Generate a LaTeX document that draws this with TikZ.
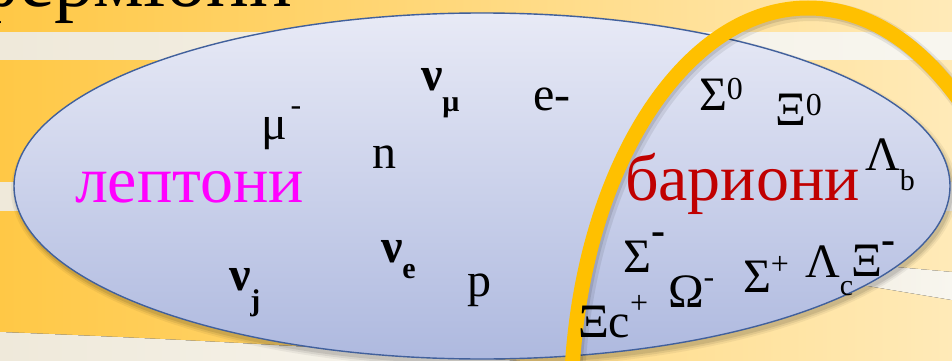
\documentclass[tikz,border=0pt]{standalone}
\usepackage{fontspec}
\setmainfont{Liberation Serif}
\definecolor{bgL}{HTML}{FFC846}
\definecolor{bgR}{HTML}{FFEAB8}
\definecolor{stripeL}{HTML}{EFE9DA}
\definecolor{stripeR}{HTML}{F8F6EF}
\definecolor{ellTop}{HTML}{E8EAF6}
\definecolor{ellBot}{HTML}{AEB9DF}
\definecolor{ellLine}{HTML}{41609C}
\definecolor{ringCol}{HTML}{FFC000}
\definecolor{lepCol}{HTML}{FF00FF}
\definecolor{barCol}{HTML}{C00000}
\newcommand\pfont{\fontsize{48}{48}\selectfont}
\newcommand\supr[2]{\raisebox{#1pt}{\fontsize{32}{32}\selectfont #2}}
\newcommand\subr[2]{\raisebox{-#1pt}{\fontsize{30}{30}\selectfont #2}}
\newcommand\bminus[1]{\raisebox{#1pt}{\fontsize{42}{42}\selectfont\bfseries -}}
\tikzset{
  lbl/.style={anchor=base west, inner sep=0pt, outer sep=0pt, font=\pfont, text=black},
  grouplbl/.style={anchor=base west, inner sep=0pt, outer sep=0pt, font=\fontsize{66}{66}\selectfont},
  stripe/.style={left color=stripeL, right color=stripeR, draw=none},
}
\begin{document}
\begin{tikzpicture}[x=1pt,y=-1pt]
\useasboundingbox (0,0) rectangle (952,361);
\clip (0,0) rectangle (952,361);
% background
\fill[left color=bgL, right color=bgR] (0,0) rectangle (952,361);
\fill[stripe] (0,33) rectangle (952,60);
\fill[stripe] (0,182) rectangle (952,210);
\fill[stripe] (760,255) -- (952,272) -- (952,300) -- (760,268) -- cycle;
\fill[stripe] (0,332) .. controls (150,338) and (300,345) .. (520,361) -- (0,361) -- cycle;
% title (cut off at top)
\node[anchor=base east, inner sep=0pt, font=\fontsize{80}{80}\selectfont] (title) at (292,7) {ферміони};
% ellipse shadow
\foreach \r/\o in {5/0.05,3/0.07,1/0.09}{
  \fill[black, opacity=\o] (484,190) ellipse [x radius=468+\r, y radius=173+\r];
}
% main ellipse
\path[top color=ellTop, bottom color=ellBot, draw=ellLine, line width=1.4pt]
  (482,186) ellipse [x radius=468, y radius=173];
% ring shadow
\draw[black, opacity=0.08, line width=20pt] (811,411) ellipse [x radius=237, y radius=400];
\draw[black, opacity=0.10, line width=16pt] (810,410) ellipse [x radius=237, y radius=400];
% orange ring
\draw[ringCol, line width=15pt] (808,408) ellipse [x radius=237, y radius=400];
% group labels
\node[grouplbl, text=lepCol] (lept) at (75,202) {лептони};
\node[grouplbl, text=barCol] (bar) at (625,200) {бариони};
% leptons side
\node[lbl] (mu) at (261,139) {μ\kern4pt\supr{24}{-}};
\node[lbl] (n) at (372,168) {n};
\node[lbl] (numu) at (421,90) {\bfseries ν\subr{21}{μ}};
\node[lbl] (em) at (533,110) {e-};
\node[lbl] (nuj) at (229,290) {\bfseries ν\subr{20}{j}};
\node[lbl] (nue) at (381,262) {\bfseries ν\subr{16}{e}};
\node[lbl] (p) at (467,296) {p};
% baryons side
\node[lbl] (s0) at (699,110) {Σ\supr{10}{0}};
\node[lbl] (x0) at (775,125) {Ξ\supr{10}{0}};
\node[lbl] (lb) at (865,170) {Λ\subr{20}{b}};
\node[lbl] (sm) at (623,272) {Σ\kern1pt\bminus{28}};
\node[lbl] (om) at (668,307) {Ω\supr{20}{-}};
\node[lbl] (sp) at (743,292) {Σ\supr{18}{+}};
\node[lbl] (lc) at (805,277) {Λ\subr{18}{c}};
\node[lbl] (xm) at (851,276) {Ξ\bminus{23}};
\node[lbl] (xc) at (578,337) {Ξc\supr{24}{+}};
\end{tikzpicture}
\end{document}
